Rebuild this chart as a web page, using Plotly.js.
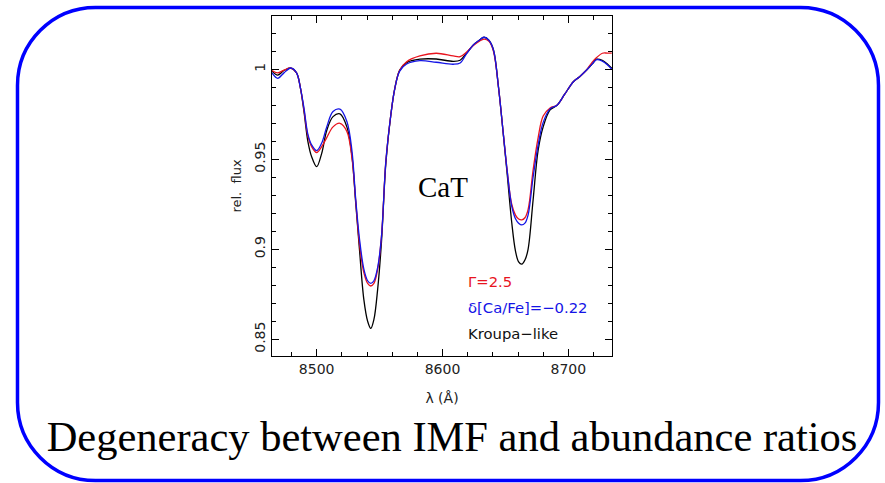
<!DOCTYPE html>
<html>
<head>
<meta charset="utf-8">
<script src="https://cdn.plot.ly/plotly-3.0.1.min.js"></script>
<style>html,body{margin:0;padding:0;background:#fff;}#chart{width:885px;height:483px;}</style>
</head>
<body>
<div id="chart"></div>
<script>
// Wavelength grid (Å)
const wave = [8464.5, 8469, 8474, 8479.5, 8484, 8487, 8490, 8493, 8496, 8500, 8504, 8508, 8513, 8518.5, 8524, 8528, 8531, 8534, 8537.5, 8540.5, 8543, 8545.5, 8548.5, 8551.5, 8555, 8559, 8562, 8566, 8571.5, 8582, 8595, 8608.5, 8614, 8619, 8624.5, 8629, 8633, 8637, 8640.5, 8644.5, 8648.5, 8651.5, 8655, 8658, 8660.5, 8663, 8665.5, 8668, 8672, 8676, 8680, 8685.5, 8691, 8697, 8704, 8709, 8714.5, 8719, 8722.5, 8727, 8731, 8734.5];

// Kroupa-like (black)
const fluxKroupa = [0.999, 0.9968, 0.9993, 1.0007, 0.998, 0.990, 0.976, 0.960, 0.9514, 0.9459, 0.9533, 0.966, 0.9737, 0.9752, 0.968, 0.952, 0.926, 0.900, 0.872, 0.860, 0.856, 0.861, 0.878, 0.904, 0.948, 0.975, 0.989, 0.9995, 1.0037, 1.0056, 1.0057, 1.0044, 1.0050, 1.0089, 1.0135, 1.016, 1.0178, 1.016, 1.0107, 0.990, 0.9626, 0.941, 0.915, 0.899, 0.893, 0.8917, 0.894, 0.900, 0.9274, 0.955, 0.968, 0.9774, 0.980, 0.986, 0.9931, 0.9959, 0.9996, 1.003, 1.0056, 1.005, 1.003, 1.0006];

// Gamma = 2.5 (red)
const fluxGamma = [0.9993, 0.998, 0.9995, 1.0007, 0.998, 0.990, 0.977, 0.963, 0.957, 0.9537, 0.957, 0.962, 0.968, 0.970, 0.9655, 0.951, 0.927, 0.903, 0.887, 0.881, 0.8796, 0.881, 0.889, 0.907, 0.949, 0.975, 0.989, 0.9995, 1.0042, 1.0074, 1.0089, 1.0074, 1.0070, 1.0095, 1.0132, 1.0155, 1.0168, 1.0155, 1.010, 0.990, 0.963, 0.943, 0.925, 0.919, 0.9168, 0.9163, 0.9175, 0.922, 0.944, 0.962, 0.974, 0.9785, 0.980, 0.986, 0.9931, 0.9959, 0.9996, 1.004, 1.0065, 1.0089, 1.009, 1.009];

// delta[Ca/Fe] = -0.22 (blue)
const fluxCaFe = [0.998, 0.995, 0.998, 1.0007, 0.998, 0.990, 0.978, 0.964, 0.958, 0.9548, 0.959, 0.968, 0.9765, 0.9778, 0.971, 0.955, 0.928, 0.906, 0.889, 0.8825, 0.881, 0.8825, 0.890, 0.907, 0.949, 0.975, 0.989, 0.999, 1.0029, 1.0048, 1.0039, 1.0028, 1.0035, 1.0085, 1.0135, 1.016, 1.0178, 1.016, 1.0107, 0.990, 0.963, 0.943, 0.924, 0.917, 0.9145, 0.9135, 0.9145, 0.919, 0.940, 0.958, 0.9705, 0.978, 0.980, 0.986, 0.9931, 0.9959, 0.9996, 1.003, 1.0054, 1.0045, 1.0025, 1.0];

const xTickVals = [8500, 8600, 8700];
const xTickText = ['8500', '8600', '8700'];
const yTickVals = [0.85, 0.9, 0.95, 1];
const yTickText = ['0.85', '0.9', '0.95', '1'];

const legendLabels = ['Γ=2.5', 'δ[Ca/Fe]=−0.22', 'Kroupa−like'];

const RED = '#e8141e', BLUE = '#1414e6', BLACK = '#000000';

const traces = [
  {x: wave, y: fluxKroupa, mode: 'lines', line: {color: BLACK, width: 1.3, shape: 'spline', smoothing: 1}, name: legendLabels[2]},
  {x: wave, y: fluxGamma, mode: 'lines', line: {color: RED, width: 1.3, shape: 'spline', smoothing: 1}, name: legendLabels[0]},
  {x: wave, y: fluxCaFe, mode: 'lines', line: {color: BLUE, width: 1.3, shape: 'spline', smoothing: 1}, name: legendLabels[1]}
];

// plot area geometry in pixels
const L = 272, T = 16, W = 340, H = 340;
const px2x = p => (p - L) / W;
const py2y = p => (T + H - p) / H;

// rounded rectangle border (pixel corners -> paper coords)
function roundRect(x0, y0, x1, y1, r) {
  const k = 0.5523 * r;
  const P = (a, b) => px2x(a).toFixed(5) + ',' + py2y(b).toFixed(5);
  return 'M' + P(x0 + r, y0) +
    ' L' + P(x1 - r, y0) +
    ' C' + P(x1 - r + k, y0) + ' ' + P(x1, y0 + r - k) + ' ' + P(x1, y0 + r) +
    ' L' + P(x1, y1 - r) +
    ' C' + P(x1, y1 - r + k) + ' ' + P(x1 - r + k, y1) + ' ' + P(x1 - r, y1) +
    ' L' + P(x0 + r, y1) +
    ' C' + P(x0 + r - k, y1) + ' ' + P(x0, y1 - r + k) + ' ' + P(x0, y1 - r) +
    ' L' + P(x0, y0 + r) +
    ' C' + P(x0, y0 + r - k) + ' ' + P(x0 + r - k, y0) + ' ' + P(x0 + r, y0) + ' Z';
}

const tickFont = {family: 'DejaVu Sans', size: 14, color: '#222'};

const layout = {
  width: 885, height: 483,
  margin: {l: L, r: 885 - L - W, t: T, b: 483 - T - H},
  paper_bgcolor: '#ffffff', plot_bgcolor: '#ffffff',
  showlegend: false,
  title: {
    text: 'Degeneracy between IMF and abundance ratios',
    font: {family: 'Liberation Serif', size: 42.5, color: '#000'},
    x: 452 / 885, xanchor: 'center', xref: 'container',
    y: 1 - 436 / 483, yanchor: 'middle', yref: 'container'
  },
  xaxis: {
    range: [8464.5, 8734.7],
    tickmode: 'array', tickvals: xTickVals, ticktext: xTickText,
    ticks: 'inside', ticklen: 7, tickwidth: 1, tickcolor: '#000',
    minor: {dtick: 20, tick0: 8500, ticks: 'inside', ticklen: 4, tickcolor: '#000', showgrid: false},
    showline: true, linecolor: '#000', linewidth: 1, mirror: 'ticks',
    showgrid: false, zeroline: false,
    tickfont: tickFont,
    title: {text: 'λ (Å)', font: {family: 'DejaVu Sans', size: 14, color: '#222'}, standoff: 17}
  },
  yaxis: {
    range: [0.8407, 1.0296],
    tickmode: 'array', tickvals: yTickVals, ticktext: yTickText,
    tickangle: -90,
    ticks: 'inside', ticklen: 7, tickwidth: 1, tickcolor: '#000',
    minor: {dtick: 0.01, tick0: 0.85, ticks: 'inside', ticklen: 4, tickcolor: '#000', showgrid: false},
    showline: true, linecolor: '#000', linewidth: 1, mirror: 'ticks',
    showgrid: false, zeroline: false,
    tickfont: tickFont,
    title: {text: 'rel.  flux', font: {family: 'DejaVu Sans', size: 13, color: '#222'}, standoff: 7}
  },
  annotations: [
    {text: 'CaT', xref: 'paper', yref: 'paper', x: px2x(442.5), y: py2y(187), xanchor: 'center', yanchor: 'middle', showarrow: false,
     font: {family: 'Liberation Serif', size: 29, color: '#000'}},
    {text: legendLabels[0], xref: 'paper', yref: 'paper', x: px2x(466), y: py2y(281), xanchor: 'left', yanchor: 'middle', showarrow: false,
     font: {family: 'DejaVu Sans', size: 14.8, color: RED}},
    {text: legendLabels[1], xref: 'paper', yref: 'paper', x: px2x(466), y: py2y(307), xanchor: 'left', yanchor: 'middle', showarrow: false,
     font: {family: 'DejaVu Sans', size: 14.8, color: BLUE}},
    {text: legendLabels[2], xref: 'paper', yref: 'paper', x: px2x(466), y: py2y(333), xanchor: 'left', yanchor: 'middle', showarrow: false,
     font: {family: 'DejaVu Sans', size: 14.8, color: '#111'}}
  ],
  shapes: [
    {type: 'path', xref: 'paper', yref: 'paper', path: roundRect(17.5, 7.5, 878.5, 480.5, 78),
     line: {color: '#0000ff', width: 3.5}, fillcolor: 'rgba(0,0,0,0)', layer: 'below'}
  ]
};

Plotly.newPlot('chart', traces, layout, {displayModeBar: false, staticPlot: true});
</script>
</body>
</html>
